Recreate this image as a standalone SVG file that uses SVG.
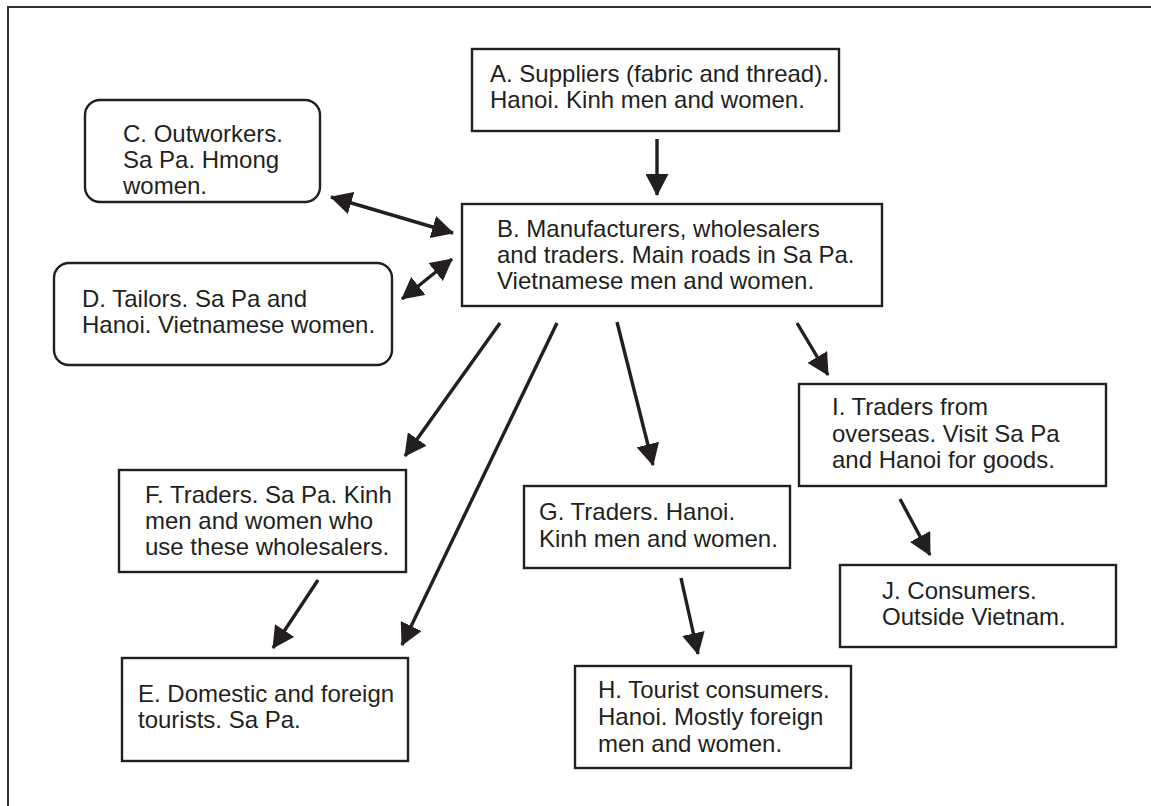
<svg xmlns="http://www.w3.org/2000/svg" width="1151" height="806" viewBox="0 0 1151 806">
<style>
.box{fill:#fff;stroke:#231f20;stroke-width:2.4}
.t{font-family:"Liberation Sans",Arial,sans-serif;font-size:24px;fill:#231f20}
.c{stroke:#231f20;stroke-width:3.4;fill:none}
</style>
<defs>
<marker id="ah" markerUnits="userSpaceOnUse" markerWidth="23" markerHeight="23" refX="21" refY="11.5" orient="auto-start-reverse" viewBox="0 0 23 23">
<path d="M0,0 L22,11.5 L0,23 z" fill="#231f20"/>
</marker>
</defs>
<rect width="1151" height="806" fill="#fff"/>
<path d="M8,806 V7 H1151" fill="none" stroke="#333" stroke-width="2"/>
<g id="connectors">
<line class="c" x1="657" y1="139" x2="657" y2="195" marker-end="url(#ah)"/>
<line class="c" x1="331" y1="197" x2="453" y2="233" marker-start="url(#ah)" marker-end="url(#ah)"/>
<line class="c" x1="402" y1="299" x2="452" y2="259" marker-start="url(#ah)" marker-end="url(#ah)"/>
<line class="c" x1="500" y1="323" x2="405" y2="456" marker-end="url(#ah)"/>
<line class="c" x1="557" y1="323" x2="402" y2="645" marker-end="url(#ah)"/>
<line class="c" x1="617" y1="322" x2="653" y2="465" marker-end="url(#ah)"/>
<line class="c" x1="797" y1="323" x2="828" y2="375" marker-end="url(#ah)"/>
<line class="c" x1="900" y1="499" x2="930" y2="555" marker-end="url(#ah)"/>
<line class="c" x1="681" y1="578" x2="698" y2="654" marker-end="url(#ah)"/>
<line class="c" x1="318" y1="580" x2="273" y2="648" marker-end="url(#ah)"/>
</g>
<g id="A">
<rect class="box" x="472" y="49" width="367" height="82"/>
<text class="t" x="490" y="82">A. Suppliers (fabric and thread).</text>
<text class="t" x="490" y="108">Hanoi. Kinh men and women.</text>
</g>
<g id="B">
<rect class="box" x="462" y="204" width="420" height="102"/>
<text class="t" x="497" y="237">B. Manufacturers, wholesalers</text>
<text class="t" x="497" y="263">and traders. Main roads in Sa Pa.</text>
<text class="t" x="497" y="289">Vietnamese men and women.</text>
</g>
<g id="C">
<rect class="box" x="85" y="100" width="235" height="102" rx="15"/>
<text class="t" x="123" y="142">C. Outworkers.</text>
<text class="t" x="123" y="168">Sa Pa. Hmong</text>
<text class="t" x="123" y="194">women.</text>
</g>
<g id="D">
<rect class="box" x="54" y="263" width="338" height="102" rx="15"/>
<text class="t" x="82" y="307">D. Tailors. Sa Pa and</text>
<text class="t" x="82" y="333">Hanoi. Vietnamese women.</text>
</g>
<g id="F">
<rect class="box" x="119" y="470" width="287" height="102"/>
<text class="t" x="145" y="503">F. Traders. Sa Pa. Kinh</text>
<text class="t" x="145" y="529">men and women who</text>
<text class="t" x="145" y="555">use these wholesalers.</text>
</g>
<g id="E">
<rect class="box" x="122" y="658" width="286" height="103"/>
<text class="t" x="138" y="702">E. Domestic and foreign</text>
<text class="t" x="138" y="728">tourists. Sa Pa.</text>
</g>
<g id="G">
<rect class="box" x="524" y="486" width="266" height="82"/>
<text class="t" x="539" y="520">G. Traders. Hanoi.</text>
<text class="t" x="539" y="547">Kinh men and women.</text>
</g>
<g id="H">
<rect class="box" x="575" y="666" width="276" height="102"/>
<text class="t" x="598" y="698">H. Tourist consumers.</text>
<text class="t" x="598" y="725">Hanoi. Mostly foreign</text>
<text class="t" x="598" y="752">men and women.</text>
</g>
<g id="I">
<rect class="box" x="799" y="384" width="307" height="102"/>
<text class="t" x="832" y="415">I. Traders from</text>
<text class="t" x="832" y="442">overseas. Visit Sa Pa</text>
<text class="t" x="832" y="468">and Hanoi for goods.</text>
</g>
<g id="J">
<rect class="box" x="840" y="565" width="276" height="82"/>
<text class="t" x="882" y="599">J. Consumers.</text>
<text class="t" x="882" y="625">Outside Vietnam.</text>
</g>
</svg>
